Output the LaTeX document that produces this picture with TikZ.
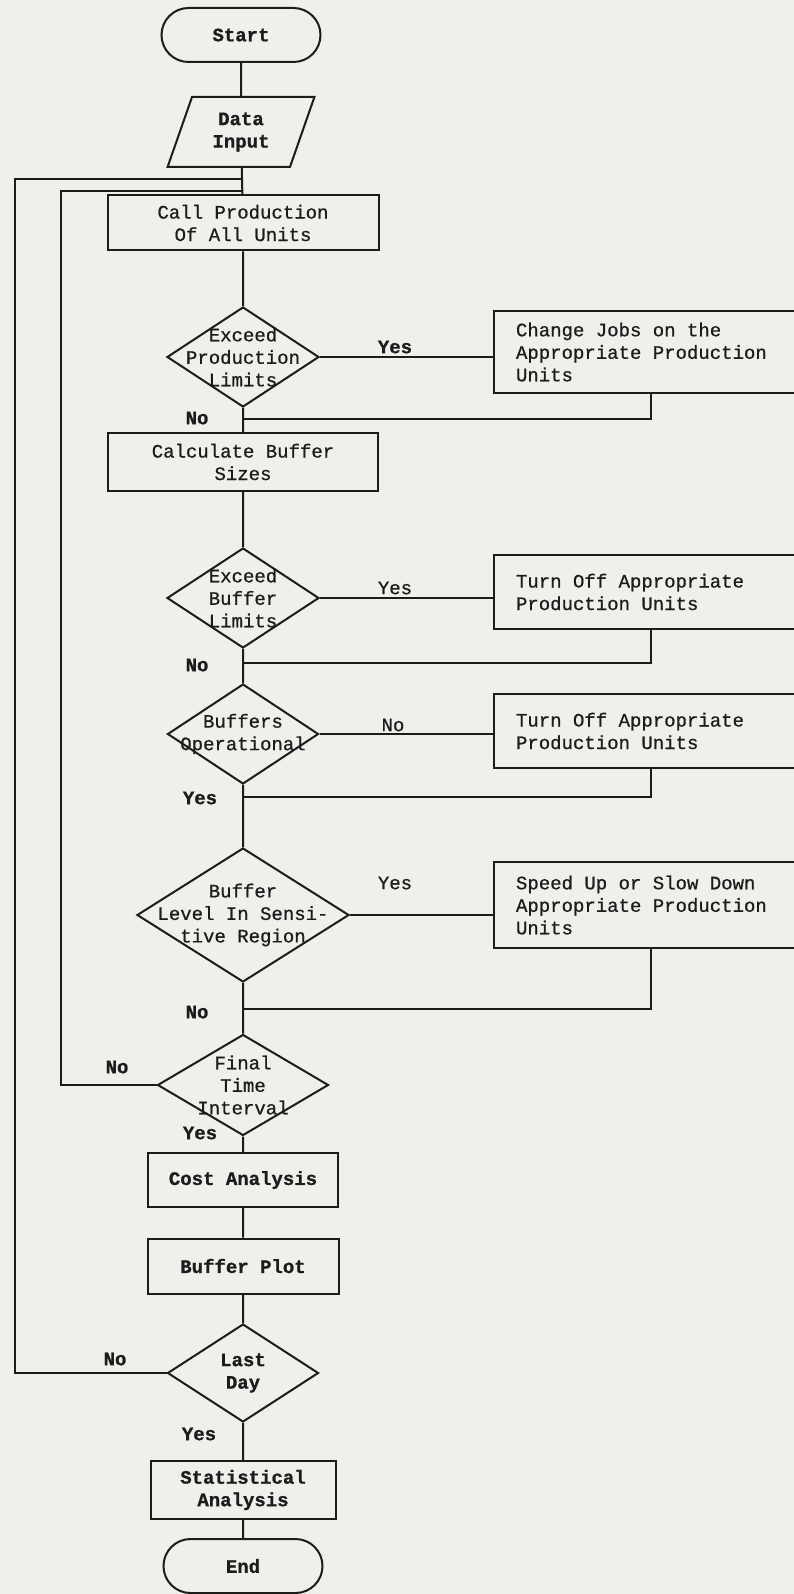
\documentclass[tikz,border=0pt]{standalone}
\usepackage{fontspec}
\newfontfamily\tw{Liberation Mono}[FakeBold=0.7]
\newfontfamily\twb{Liberation Mono}[FakeBold=0.9]
\usetikzlibrary{shapes.geometric}
\definecolor{paper}{RGB}{239,239,236}
\definecolor{ink}{RGB}{28,28,28}

\begin{document}
\begin{tikzpicture}[x=1pt,y=-1pt,line width=2pt,color=ink,
  every node/.style={font=\tw\fontsize{19}{22.5}\selectfont},
  heavy/.style={font=\twb\bfseries\fontsize{19}{22.5}\selectfont},
  term/.style={draw,heavy,rounded corners=27pt,minimum width=159pt,minimum height=54pt},
  box/.style={draw,align=flush center,inner sep=0pt},
  side/.style={draw,align=flush left,inner sep=0pt,inner xsep=22pt,text width=270pt},
  dec/.style={draw,diamond,inner sep=0pt}]
\useasboundingbox (0,0) rectangle (794,1594);
\fill[paper] (0,0) rectangle (794,1594);

\node[term] (start) at (241,35) {Start};
\node[draw,heavy,trapezium,trapezium left angle=70,trapezium right angle=110,trapezium stretches=true,
  minimum width=147pt,minimum height=70pt,align=flush center,inner sep=0pt] (input) at (241,132) {Data\\Input};
\node[box,minimum width=271pt,minimum height=55pt] (call) at (243,223) {Call Production\\Of All Units};
\node[dec,minimum width=152pt,minimum height=100pt,
  label={[align=flush center]center:Exceed\\Production\\Limits}] (d1) at (243,357) {};
\node[side,minimum height=82pt] (jobs) at (651,352) {Change Jobs on the\\Appropriate Production\\Units};
\node[box,minimum width=270pt,minimum height=58pt] (calc) at (243,462) {Calculate Buffer\\Sizes};
\node[dec,minimum width=152pt,minimum height=100pt,
  label={[align=flush center]center:Exceed\\Buffer\\Limits}] (d2) at (243,598) {};
\node[side,minimum height=74pt] (off1) at (651,592) {Turn Off Appropriate\\Production Units};
\node[dec,minimum width=151pt,minimum height=100pt,
  label={[align=flush center]center:Buffers\\Operational}] (d3) at (243,734) {};
\node[side,minimum height=74pt] (off2) at (651,731) {Turn Off Appropriate\\Production Units};
\node[dec,minimum width=212pt,minimum height=134pt,
  label={[align=flush center]center:Buffer\\Level In Sensi-\\tive Region}] (d4) at (243,915) {};
\node[side,minimum height=86pt] (speed) at (651,905) {Speed Up or Slow Down\\Appropriate Production\\Units};
\node[dec,minimum width=171pt,minimum height=101pt,
  label={[align=flush center]center:Final\\Time\\Interval}] (d5) at (243,1085) {};
\node[box,heavy,minimum width=190pt,minimum height=54pt] (cost) at (243,1180) {Cost Analysis};
\node[box,heavy,minimum width=191pt,minimum height=55pt] (plot) at (243,1266) {Buffer Plot};
\node[dec,minimum width=151pt,minimum height=98pt,
  label={[heavy,align=flush center]center:Last\\Day}] (d6) at (243,1373) {};
\node[box,heavy,minimum width=185pt,minimum height=58pt] (stat) at (243,1490) {Statistical\\Analysis};
\node[term] (end) at (243,1566) {End};

\draw (start) -- (input) -- (call) -- (d1) -- (calc) -- (d2) -- (d3) -- (d4) -- (d5)
  -- (cost) -- (plot) -- (d6) -- (stat) -- (end);

\coordinate (r1) at (243,419);
\coordinate (r2) at (243,663);
\coordinate (r3) at (243,797);
\coordinate (r4) at (243,1009);
\draw (d1.east) -- (jobs.west |- d1.east);
\draw (jobs.south) |- (r1);
\draw (d2.east) -- (off1.west |- d2.east);
\draw (off1.south) |- (r2);
\draw (d3.east) -- (off2.west |- d3.east);
\draw (off2.south) |- (r3);
\draw (d4.east) -- (speed.west |- d4.east);
\draw (speed.south) |- (r4);

\coordinate (o1) at (15,179);
\coordinate (i1) at (61,191);
\draw (d6.west) -| (o1) -- (o1 -| call.north);
\draw (d5.west) -| (i1) -- (i1 -| call.north);

\node[heavy] (y1) at (395,347) {Yes};
\node[heavy] (n1) at (197,418) {No};
\node (y2) at (395,588) {Yes};
\node[heavy] (n2) at (197,665) {No};
\node (n3) at (393,725) {No};
\node[heavy] (y3) at (200,798) {Yes};
\node (y4) at (395,883) {Yes};
\node[heavy] (n4) at (197,1012) {No};
\node[heavy] (n5) at (117,1067) {No};
\node[heavy] (y5) at (200,1133) {Yes};
\node[heavy] (n6) at (115,1359) {No};
\node[heavy] (y6) at (199,1434) {Yes};
\end{tikzpicture}
\end{document}
